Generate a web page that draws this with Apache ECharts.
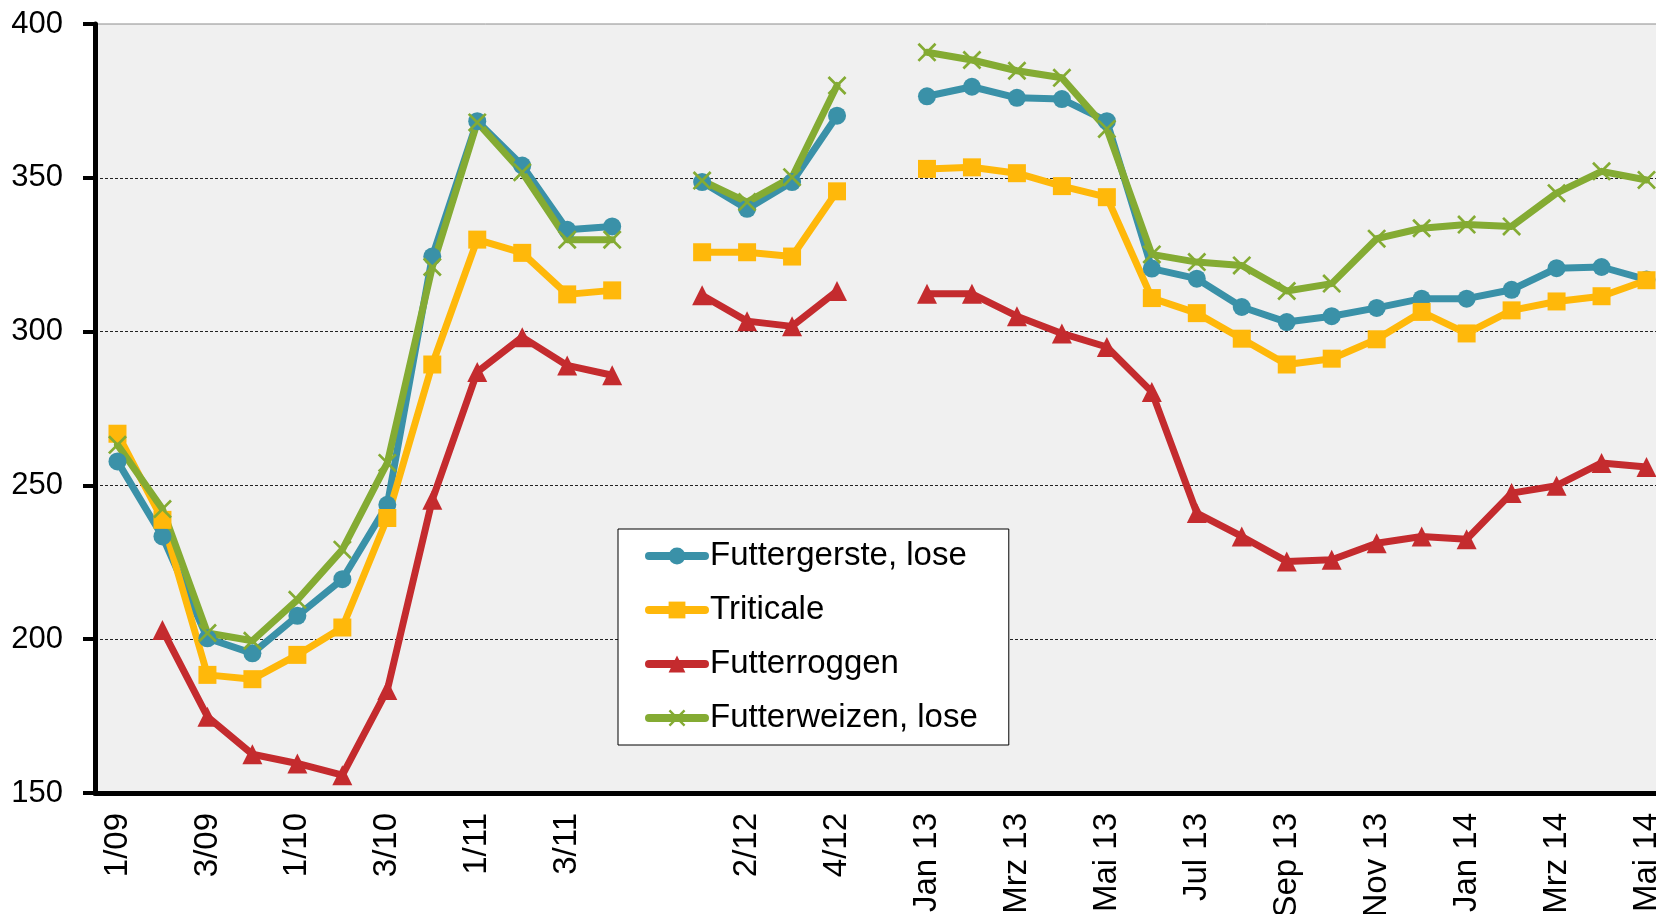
<!DOCTYPE html>
<html>
<head>
<meta charset="utf-8">
<script src="https://cdn.jsdelivr.net/npm/echarts@6/dist/echarts.min.js"></script>
<style>
  html, body { margin: 0; padding: 0; background: #fff; }
  #chart { width: 1656px; height: 914px; }
</style>
</head>
<body>
<div id="chart"></div>
<script>
  // Kategorien (Quartale bis 2012, danach Monate)
  const categories = ['1/09', '2/09', '3/09', '4/09', '1/10', '2/10', '3/10', '4/10',
    '1/11', '2/11', '3/11', '4/11', '', '1/12', '2/12', '3/12', '4/12', '',
    'Jan 13', 'Feb 13', 'Mrz 13', 'Apr 13', 'Mai 13', 'Jun 13', 'Jul 13', 'Aug 13',
    'Sep 13', 'Okt 13', 'Nov 13', 'Dez 13', 'Jan 14', 'Feb 14', 'Mrz 14', 'Apr 14', 'Mai 14']

  const futtergerste = [257.8, 233.4, 200.3, 195.4, 207.6, 219.5, 243.7, 324.4, 368.4, 354, 333.1, 334.2, null,
    348.6, 339.9, 348.6, 370.2, null, 376.5, 379.6, 376, 375.6, 368.4, 320.5, 317.2, 308, 303.1, 305,
    307.7, 310.7, 310.7, 313.6, 320.6, 321, 316.9]
  const triticale = [266.8, 238.8, 188.4, 187, 194.9, 203.8, 239.4, 289.3, 329.9, 325.6, 312.1, 313.4, null,
    325.8, 325.8, 324.4, 345.6, null, 352.9, 353.4, 351.5, 347.3, 343.7, 310.9, 306, 297.7, 289.3, 291.2,
    297.5, 306.4, 299.4, 306.9, 309.8, 311.5, 316.7]
  const futterroggen = [null, 203, 174.8, 162.6, 159.6, 155.8, 183.5, 245.3, 286.9, 298.2, 289, 285.8, null,
    311.8, 303.4, 301.7, 313.2, null, 312.3, 312.3, 305, 299.4, 295, 280.4, 241, 233.4, 225.3, 225.8,
    231.2, 233.4, 232.5, 247.5, 249.9, 257.3, 256]
  const futterweizen = [263.2, 242.3, 202, 199.5, 212.8, 229.1, 257.3, 321, 368, 351.8, 329.9, 329.9, null,
    349.1, 342.1, 350.2, 380, null, 390.8, 388.3, 384.8, 382.5, 365.9, 325.1, 322.6, 321.5, 313.2, 315.6,
    330.2, 333.6, 334.8, 334.2, 345, 352.1, 349.3]

  const yTicks = { min: 150, max: 400, interval: 50 }

  const font = 'Liberation Sans, Arial, sans-serif'
  const crossPath = 'path://M0,1L1,0L10,9L9,10Z M9,0L10,1L1,10L0,9Z'

  function lineSeries(name, data, color, symbol, size) {
    return {
      name: name,
      type: 'line',
      data: data,
      symbol: symbol,
      symbolSize: size,
      showSymbol: true,
      showAllSymbol: true,
      connectNulls: false,
      lineStyle: { color: color, width: 7, cap: 'round', join: 'round' },
      itemStyle: { color: color },
      emphasis: { disabled: true }
    }
  }

  const chart = echarts.init(document.getElementById('chart'), null, { renderer: 'canvas' })
  chart.setOption({
    animation: false,
    textStyle: { fontFamily: font },
    grid: {
      left: 95,
      top: 24,
      right: -13,
      bottom: 121,
      outerBoundsMode: 'none',
      containLabel: false,
      show: true,
      backgroundColor: '#f0f0f0',
      borderColor: '#8c8c8c',
      borderWidth: 1
    },
    legend: {
      orient: 'vertical',
      left: 618,
      top: 529,
      padding: [9, 31, 9, 27],
      itemGap: 18,
      itemWidth: 56,
      itemHeight: 21,
      backgroundColor: '#fff',
      borderColor: '#000',
      borderWidth: 1,
      lineStyle: { width: 8, cap: 'round' },
      textStyle: { fontSize: 33, color: '#000', fontFamily: font, lineHeight: 36 },
      data: ['Futtergerste, lose', 'Triticale', 'Futterroggen', 'Futterweizen, lose']
    },
    xAxis: {
      type: 'category',
      data: categories,
      boundaryGap: true,
      axisLine: { lineStyle: { color: '#000', width: 5 } },
      axisTick: { interval: 0, length: 10, lineStyle: { color: '#000', width: 4 } },
      axisLabel: {
        interval: 1,
        rotate: 90,
        margin: 20,
        fontSize: 33,
        color: '#000',
        fontFamily: font
      },
      splitLine: { show: false }
    },
    yAxis: {
      type: 'value',
      min: yTicks.min,
      max: yTicks.max,
      interval: yTicks.interval,
      axisLine: { show: true, lineStyle: { color: '#000', width: 5 } },
      axisTick: { show: true, length: 12, lineStyle: { color: '#000', width: 4 } },
      axisLabel: { margin: 32, fontSize: 31, color: '#000', fontFamily: font },
      splitLine: {
        show: true,
        showMinLine: false,
        showMaxLine: false,
        lineStyle: { color: '#222', width: 1, type: [3, 2] }
      }
    },
    series: [
      lineSeries('Futtergerste, lose', futtergerste, '#3a91a8', 'circle', 18),
      lineSeries('Triticale', triticale, '#ffb80a', 'rect', 18),
      lineSeries('Futterroggen', futterroggen, '#c42b2e', 'triangle', 20),
      lineSeries('Futterweizen, lose', futterweizen, '#84ab33', crossPath, 19)
    ]
  })
</script>
</body>
</html>
